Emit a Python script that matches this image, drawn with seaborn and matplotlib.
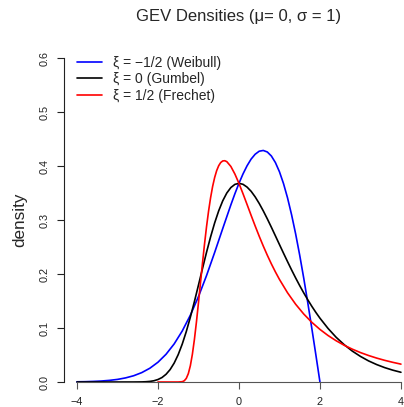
import matplotlib
matplotlib.use("Agg")
import matplotlib.pyplot as plt
from matplotlib.lines import Line2D
import seaborn as sns

# Weibull-type GEV density (xi = -1/2), support x < 2
x_weibull = [-4.0, -3.8, -3.6, -3.4, -3.2, -3.0, -2.8, -2.6, -2.4, -2.2, -2.0,
             -1.8, -1.6, -1.4, -1.2, -1.0, -0.8, -0.6, -0.4, -0.2, -0.1, 0.0,
             0.1, 0.2, 0.3, 0.4, 0.5, 0.6, 0.7, 0.8, 0.9, 1.0, 1.1, 1.2, 1.3,
             1.4, 1.5, 1.6, 1.7, 1.8, 1.9, 2.0]
dens_weibull = [0.0004, 0.0006, 0.0011, 0.0018, 0.0030, 0.0048, 0.0076, 0.0116,
                0.0174, 0.0255, 0.0366, 0.0514, 0.0705, 0.0945, 0.1237, 0.1581,
                0.1972, 0.2399, 0.2843, 0.3280, 0.3487, 0.3679, 0.3853, 0.4004,
                0.4128, 0.4218, 0.4274, 0.4288, 0.4260, 0.4186, 0.4064, 0.3894,
                0.3675, 0.3409, 0.3096, 0.2742, 0.2349, 0.1922, 0.1467, 0.0990,
                0.0499, 0.0]

# Gumbel density (xi = 0)
x_gumbel = [-4.0, -3.5, -3.0, -2.8, -2.6, -2.4, -2.3, -2.2, -2.1, -2.0, -1.9,
            -1.8, -1.7, -1.6, -1.5, -1.4, -1.3, -1.2, -1.1, -1.0, -0.9, -0.8,
            -0.7, -0.6, -0.5, -0.4, -0.3, -0.2, -0.1, 0.0, 0.1, 0.2, 0.3, 0.4,
            0.5, 0.6, 0.7, 0.8, 0.9, 1.0, 1.1, 1.2, 1.3, 1.4, 1.5, 1.6, 1.7,
            1.8, 1.9, 2.0, 2.2, 2.4, 2.6, 2.8, 3.0, 3.2, 3.4, 3.6, 3.8, 4.0]
dens_gumbel = [0.0, 0.0, 0.0, 0.0, 0.00002, 0.00018, 0.00047, 0.0011, 0.0023,
               0.0046, 0.0083, 0.0143, 0.0230, 0.0350, 0.0507, 0.0703, 0.0935,
               0.1200, 0.1489, 0.1794, 0.2102, 0.2404, 0.2688, 0.2946, 0.3170,
               0.3356, 0.3500, 0.3601, 0.3660, 0.3679, 0.3661, 0.3610, 0.3532,
               0.3429, 0.3307, 0.3170, 0.3022, 0.2867, 0.2707, 0.2546, 0.2386,
               0.2229, 0.2075, 0.1927, 0.1785, 0.1650, 0.1522, 0.1401, 0.1288,
               0.1182, 0.0992, 0.0828, 0.0690, 0.0572, 0.0474, 0.0391, 0.0323,
               0.0266, 0.0219, 0.0180]

# Frechet-type GEV density (xi = 1/2), support x > -2
x_frechet = [-2.0, -1.6, -1.5, -1.4, -1.35, -1.3, -1.25, -1.2, -1.15, -1.1,
             -1.05, -1.0, -0.95, -0.9, -0.85, -0.8, -0.75, -0.7, -0.65, -0.6,
             -0.55, -0.5, -0.45, -0.4, -0.35, -0.3, -0.2, -0.1, 0.0, 0.1, 0.2,
             0.3, 0.4, 0.5, 0.6, 0.7, 0.8, 0.9, 1.0, 1.2, 1.4, 1.6, 1.8, 2.0,
             2.2, 2.4, 2.6, 2.8, 3.0, 3.2, 3.4, 3.6, 3.8, 4.0]
dens_frechet = [0.0, 0.0, 0.00001, 0.00055, 0.0023, 0.0067, 0.0155, 0.0302,
                0.0514, 0.0787, 0.1110, 0.1465, 0.1836, 0.2204, 0.2555, 0.2879,
                0.3166, 0.3414, 0.3622, 0.3787, 0.3915, 0.4006, 0.4065, 0.4094,
                0.4098, 0.4081, 0.3992, 0.3851, 0.3679, 0.3487, 0.3288, 0.3087,
                0.2890, 0.2700, 0.2519, 0.2348, 0.2188, 0.2039, 0.1900, 0.1652,
                0.1440, 0.1259, 0.1105, 0.0974, 0.0861, 0.0764, 0.0680, 0.0608,
                0.0545, 0.0491, 0.0443, 0.0401, 0.0364, 0.0331]

series_labels = ["\u03be = \u22121/2 (Weibull)", "\u03be = 0 (Gumbel)",
                 "\u03be = 1/2 (Frechet)"]
series_colors = ["#0000FF", "#000000", "#FF0000"]

x_ticks = [-4, -2, 0, 2, 4]
x_tick_labels = ["\u22124", "\u22122", "0", "2", "4"]
y_ticks = [0.0, 0.1, 0.2, 0.3, 0.4, 0.5, 0.6]
y_tick_labels = ["0.0", "0.1", "0.2", "0.3", "0.4", "0.5", "0.6"]

title_text = "GEV Densities (\u03bc= 0, \u03c3 = 1)"
y_label = "density"

sns.set_style("white")
plt.rcParams["font.family"] = ["Liberation Sans", "DejaVu Sans"]

W, H = 404, 407
fig = plt.figure(figsize=(W / 100, H / 100), dpi=100)
ax = fig.add_axes([64 / W, 12.04 / H, 349.9 / W, 349.9 / H])
ax.patch.set_alpha(0)

lw = 1.2
sns.lineplot(x=x_weibull, y=dens_weibull, color=series_colors[0], lw=lw, ax=ax)
sns.lineplot(x=x_gumbel, y=dens_gumbel, color=series_colors[1], lw=lw, ax=ax)
sns.lineplot(x=x_frechet, y=dens_frechet, color=series_colors[2], lw=lw, ax=ax)

ax.set_xlim(-4.32, 4.32)
ax.set_ylim(-0.024, 0.624)

for side in ["top", "right"]:
    ax.spines[side].set_visible(False)
ax.spines["left"].set_bounds(0.0, 0.6)
ax.spines["left"].set_color("#222222")
ax.spines["left"].set_linewidth(0.8)
ax.spines["bottom"].set_position(("data", 0.0))
ax.spines["bottom"].set_bounds(-4, 4)
ax.spines["bottom"].set_color("#555555")
ax.spines["bottom"].set_linewidth(0.8)

ax.set_xticks(x_ticks)
ax.set_xticklabels(x_tick_labels)
ax.set_yticks(y_ticks)
ax.set_yticklabels(y_tick_labels, rotation=90, va="center")
ax.tick_params(axis="x", bottom=True, direction="out", length=5, width=0.8,
               color="#555555", labelsize=7.8, pad=6, labelcolor="#222222")
ax.tick_params(axis="y", left=True, direction="out", length=5, width=0.8,
               color="#222222", labelsize=7.8, pad=5.5, labelcolor="#222222")

ax.set_ylabel(y_label, fontsize=12.3, labelpad=9)
fig.text(239 / W, 1 - 17 / H, title_text, ha="center", va="center",
         fontsize=12)

handles = [Line2D([], [], color=c, lw=lw) for c in series_colors]
ax.legend(handles, series_labels, loc="upper left",
          bbox_to_anchor=(77 / W, 1 - 55.5 / H), bbox_transform=fig.transFigure,
          frameon=False, fontsize=10, handlelength=1.8, handletextpad=0.79,
          labelspacing=0.2, borderaxespad=0, borderpad=0)

fig.savefig("out.png", dpi=100)
